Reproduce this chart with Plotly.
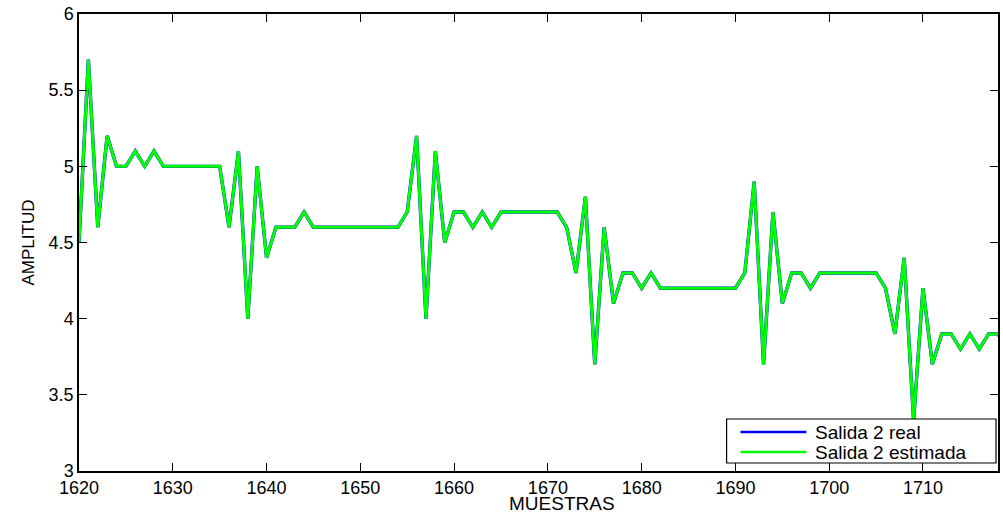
import plotly.graph_objects as go

muestras = list(range(1620, 1720))
salida_real = [
    4.5, 5.7, 4.6, 5.2, 5.0, 5.0, 5.1, 5.0, 5.1, 5.0,   # 1620-1629
    5.0, 5.0, 5.0, 5.0, 5.0, 5.0, 4.6, 5.1, 4.0, 5.0,   # 1630-1639
    4.4, 4.6, 4.6, 4.6, 4.7, 4.6, 4.6, 4.6, 4.6, 4.6,   # 1640-1649
    4.6, 4.6, 4.6, 4.6, 4.6, 4.7, 5.2, 4.0, 5.1, 4.5,   # 1650-1659
    4.7, 4.7, 4.6, 4.7, 4.6, 4.7, 4.7, 4.7, 4.7, 4.7,   # 1660-1669
    4.7, 4.7, 4.6, 4.3, 4.8, 3.7, 4.6, 4.1, 4.3, 4.3,   # 1670-1679
    4.2, 4.3, 4.2, 4.2, 4.2, 4.2, 4.2, 4.2, 4.2, 4.2,   # 1680-1689
    4.2, 4.3, 4.9, 3.7, 4.7, 4.1, 4.3, 4.3, 4.2, 4.3,   # 1690-1699
    4.3, 4.3, 4.3, 4.3, 4.3, 4.3, 4.2, 3.9, 4.4, 3.33,  # 1700-1709
    4.2, 3.7, 3.9, 3.9, 3.8, 3.9, 3.8, 3.9, 3.9, 3.8,   # 1710-1719
]
salida_estimada = [
    4.5, 5.7, 4.6, 5.2, 5.0, 5.0, 5.1, 5.0, 5.1, 5.0,
    5.0, 5.0, 5.0, 5.0, 5.0, 5.0, 4.6, 5.1, 4.0, 5.0,
    4.4, 4.6, 4.6, 4.6, 4.7, 4.6, 4.6, 4.6, 4.6, 4.6,
    4.6, 4.6, 4.6, 4.6, 4.6, 4.7, 5.2, 4.0, 5.1, 4.5,
    4.7, 4.7, 4.6, 4.7, 4.6, 4.7, 4.7, 4.7, 4.7, 4.7,
    4.7, 4.7, 4.6, 4.3, 4.8, 3.7, 4.6, 4.1, 4.3, 4.3,
    4.2, 4.3, 4.2, 4.2, 4.2, 4.2, 4.2, 4.2, 4.2, 4.2,
    4.2, 4.3, 4.9, 3.7, 4.7, 4.1, 4.3, 4.3, 4.2, 4.3,
    4.3, 4.3, 4.3, 4.3, 4.3, 4.3, 4.2, 3.9, 4.4, 3.33,
    4.2, 3.7, 3.9, 3.9, 3.8, 3.9, 3.8, 3.9, 3.9, 3.8,
]
series_names = ["Salida 2 real", "Salida 2 estimada"]
series_colors = ["#0000ff", "#00ff00"]

x_ticks = [1620, 1630, 1640, 1650, 1660, 1670, 1680, 1690, 1700, 1710]
y_ticks = [3, 3.5, 4, 4.5, 5, 5.5, 6]
y_tick_text = ["3", "3.5", "4", "4.5", "5", "5.5", "6"]

FONT = "Liberation Sans, Arial, sans-serif"

# plot area in pixels (for paper-coordinate placement of legend/title)
L, R, T, B = 79, 1000, 14, 471
def px(xp):
    return (xp - L) / (R - L)
def py(yp):
    return (B - yp) / (B - T)

fig = go.Figure()
fig.add_trace(go.Scatter(x=muestras, y=salida_real, mode="lines",
                         name=series_names[0], showlegend=False,
                         line=dict(color=series_colors[0], width=3.4)))
fig.add_trace(go.Scatter(x=muestras, y=salida_estimada, mode="lines",
                         name=series_names[1], showlegend=False,
                         line=dict(color=series_colors[1], width=3)))

axis_common = dict(
    showgrid=False, zeroline=False, showline=True, linecolor="black",
    linewidth=1.5, mirror="ticks", ticks="inside", ticklen=8,
    tickcolor="black", tickwidth=1,
    tickfont=dict(family=FONT, size=18, color="black"),
)

fig.update_xaxes(range=[1620, 1718], tickvals=x_ticks, **axis_common)
fig.update_yaxes(range=[3, 6], tickvals=y_ticks, ticktext=y_tick_text,
                 title=dict(text="AMPLITUD", font=dict(family=FONT, size=17, color="black"), standoff=10),
                 **axis_common)

fig.add_annotation(text="MUESTRAS", xref="paper", yref="paper",
                   x=px(563), y=py(503.5),
                   xanchor="center", yanchor="middle", showarrow=False,
                   font=dict(family=FONT, size=19, color="black"))

# legend box (MATLAB style)
fig.add_shape(type="rect", xref="paper", yref="paper",
              x0=px(728), x1=px(998), y0=py(463), y1=py(419),
              fillcolor="white", line=dict(color="black", width=1.2), layer="above")
legend_rows = [432, 452]
for name, color, yrow in zip(series_names, series_colors, legend_rows):
    fig.add_shape(type="line", xref="paper", yref="paper",
                  x0=px(742), x1=px(808), y0=py(yrow), y1=py(yrow),
                  line=dict(color=color, width=2.5), layer="above")
    fig.add_annotation(text=name, xref="paper", yref="paper",
                       x=px(815), y=py(yrow), xanchor="left", yanchor="middle",
                       showarrow=False,
                       font=dict(family=FONT, size=19, color="black"))

fig.update_layout(
    width=1003, height=514,
    margin=dict(l=L, r=1003 - R, t=T, b=514 - B),
    paper_bgcolor="white", plot_bgcolor="white",
    showlegend=False,
)

fig.write_html("out.html")
